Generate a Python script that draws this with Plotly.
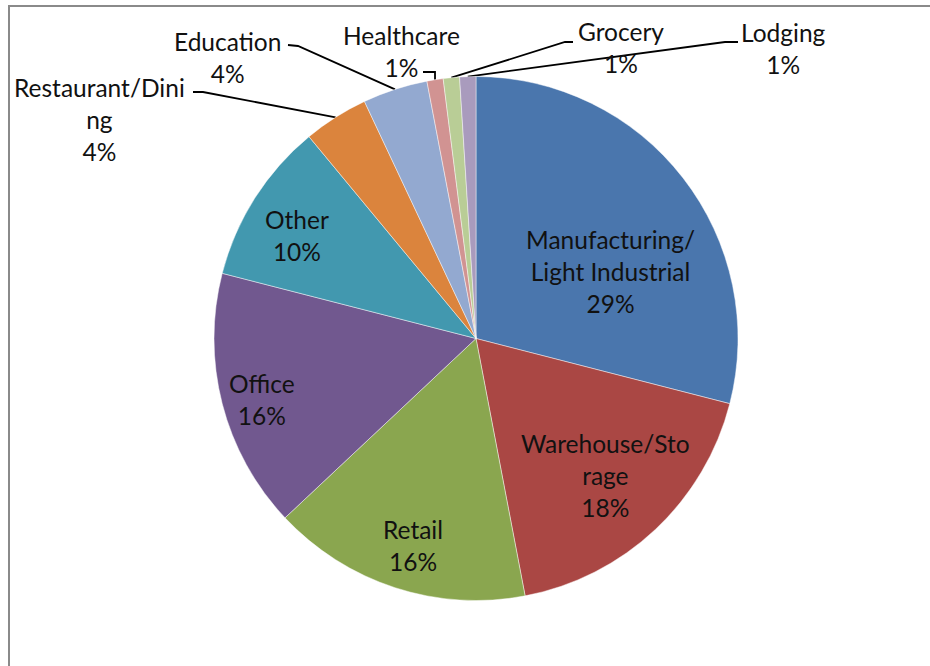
import math
import plotly.graph_objects as go

# Share of floor area by building type (percent)
categories = [
    "Manufacturing/Light Industrial", "Warehouse/Storage", "Retail", "Office",
    "Other", "Restaurant/Dining", "Education", "Healthcare", "Grocery", "Lodging",
]
shares = [29, 18, 16, 16, 10, 4, 4, 1, 1, 1]
pct_labels = ["29%", "18%", "16%", "16%", "10%", "4%", "4%", "1%", "1%", "1%"]

# Label text as wrapped by the chart
label_text = [
    "Manufacturing/<br>Light Industrial", "Warehouse/Sto<br>rage", "Retail", "Office",
    "Other", "Restaurant/Dini<br>ng", "Education", "Healthcare", "Grocery", "Lodging",
]

colors = ["#4A76AD", "#AA4744", "#8AA64F", "#71588F", "#4298AF",
          "#DB843D", "#93A9D0", "#D19392", "#B9CD96", "#A99BBD"]

W, H = 930, 666
CX, CY, R = 476, 338.5, 262
FONT = "Lato"
FS = 24.5

# label block centers (pixels) and, for outside labels, the leader start point
inside_pos = {
    "Manufacturing/Light Industrial": (610, 271),
    "Warehouse/Storage": (605, 475),
    "Retail": (413, 545),
    "Office": (262, 399),
    "Other": (297, 235),
}
outside_pos = {
    "Restaurant/Dining": ((99, 119), (193, 92), (203, 92)),
    "Education": ((227, 57), (288, 45), (298, 46)),
    "Healthcare": ((401, 51), (423, 72), None),
    "Grocery": ((621, 47), (573, 42), (565, 42)),
    "Lodging": ((783, 48), (738, 42), (725, 42)),
}

fig = go.Figure()
fig.add_trace(go.Pie(
    labels=categories, values=shares, sort=False, direction="clockwise",
    rotation=0, textinfo="none", hoverinfo="label+percent", showlegend=False,
    marker=dict(colors=colors, line=dict(color="rgba(255,255,255,0.45)", width=1)),
    domain=dict(x=[(CX - R) / W, (CX + R) / W],
                y=[1 - (CY + R) / H, 1 - (CY - R) / H]),
))

total = sum(shares)
cum = 0
annotations = []
for name, val, txt, pct in zip(categories, shares, label_text, pct_labels):
    mid = (cum + val / 2) / total * 2 * math.pi
    cum += val
    ex, ey = CX + R * math.sin(mid), CY - R * math.cos(mid)
    if name in inside_pos:
        x, y = inside_pos[name]
    else:
        (x, y), start, elbow = outside_pos[name]
        if elbow is None:
            elbow = (ex, start[1])
        fig.add_trace(go.Scatter(
            x=[start[0], elbow[0], ex], y=[start[1], elbow[1], ey],
            mode="lines", line=dict(color="black", width=1.8),
            hoverinfo="skip", showlegend=False, xaxis="x", yaxis="y"))
    annotations.append(dict(
        x=x, y=y, xref="x", yref="y", text=f"{txt}<br>{pct}", showarrow=False,
        font=dict(family=FONT, size=FS, color="#111"), align="center",
        xanchor="center", yanchor="middle"))

fig.update_layout(
    width=W, height=H, margin=dict(l=0, r=0, t=0, b=0),
    paper_bgcolor="white", plot_bgcolor="rgba(0,0,0,0)",
    xaxis=dict(range=[0, W], visible=False, fixedrange=True),
    yaxis=dict(range=[H, 0], visible=False, fixedrange=True),
    annotations=annotations,
    shapes=[
        dict(type="line", xref="x", yref="y", x0=8, y0=6, x1=W, y1=6,
             line=dict(color="#8A8A8A", width=2)),
        dict(type="line", xref="x", yref="y", x0=9, y0=6, x1=9, y1=H,
             line=dict(color="#8A8A8A", width=2)),
    ],
)

fig.write_html("out.html")
